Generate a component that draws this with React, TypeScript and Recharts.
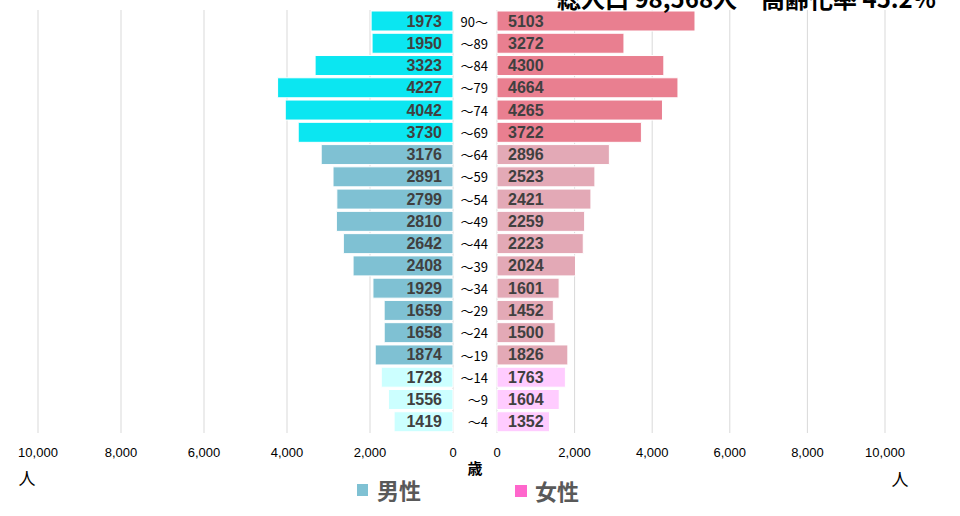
import React from "react";
import { BarChart, Bar, XAxis, YAxis, CartesianGrid, Cell, LabelList } from "recharts";

const ages = ["90〜", "〜89", "〜84", "〜79", "〜74", "〜69", "〜64", "〜59", "〜54", "〜49", "〜44", "〜39", "〜34", "〜29", "〜24", "〜19", "〜14", "〜9", "〜4"];
const male = [1973, 1950, 3323, 4227, 4042, 3730, 3176, 2891, 2799, 2810, 2642, 2408, 1929, 1659, 1658, 1874, 1728, 1556, 1419];
const female = [5103, 3272, 4300, 4664, 4265, 3722, 2896, 2523, 2421, 2259, 2223, 2024, 1601, 1452, 1500, 1826, 1763, 1604, 1352];
const groups = ["old", "old", "old", "old", "old", "old", "mid", "mid", "mid", "mid", "mid", "mid", "mid", "mid", "mid", "mid", "young", "young", "young"];
const xTicks = [0, 2000, 4000, 6000, 8000, 10000];
const titleText = "総人口 98,568人\u3000高齢化率 45.2%";

const maleColors: Record<string, string> = { old: "#0BE6F1", mid: "#7FC1D3", young: "#CCFFFF" };
const femaleColors: Record<string, string> = { old: "#E97F90", mid: "#E3A9B6", young: "#FFCCFF" };

const data = ages.map((age, i) => ({ age, male: male[i], female: female[i], group: groups[i] }));

const fmt = (v: number) => v.toLocaleString("en-US");
const tickStyle = { fontFamily: "Liberation Sans, Arial, sans-serif", fontSize: 13, fill: "#000" };
const labelFont = "Liberation Sans, Arial, sans-serif";

const MaleLabel = (props: any) => {
  const { x, y, width, height, value } = props;
  const right = Math.max(x, x + width);
  return (
    <text x={right - 11} y={y + height / 2} textAnchor="end" dominantBaseline="central"
      fontFamily={labelFont} fontWeight="bold" fontSize={16} fill="#404040">{value}</text>
  );
};

const FemaleLabel = (props: any) => {
  const { x, y, width, height, value } = props;
  const left = Math.min(x, x + width);
  return (
    <text x={left + 11} y={y + height / 2} textAnchor="start" dominantBaseline="central"
      fontFamily={labelFont} fontWeight="bold" fontSize={16} fill="#404040">{value}</text>
  );
};

const AgeTick = (props: any) => {
  const { x, y, payload } = props;
  return (
    <text x={x + 27} y={y} textAnchor="end" dominantBaseline="central"
      fontFamily="'Noto Sans CJK JP', sans-serif" fontSize={13} fill="#000">{payload.value}</text>
  );
};

export default function App() {
  return (
    <div style={{ position: "absolute", left: 0, top: 0, width: 960, height: 516, background: "#fff", overflow: "hidden" }}>
      <div style={{ position: "absolute", left: 0, top: 0 }}>
        <BarChart width={497} height={516} data={data} layout="vertical"
          margin={{ top: 10, right: 0, bottom: 53, left: 38 }} barCategoryGap={1}>
          <CartesianGrid horizontal={false} stroke="#D9D9D9" />
          <XAxis type="number" dataKey="male" domain={[0, 10000]} ticks={xTicks} reversed
            tickFormatter={fmt} axisLine={false} tickLine={false} tick={tickStyle} tickMargin={9} height={30} interval={0} />
          <YAxis type="category" dataKey="age" orientation="right" width={44}
            axisLine={false} tickLine={false} tick={<AgeTick />} interval={0} />
          <Bar dataKey="male" isAnimationActive={false} stroke="#fff" strokeWidth={1}>
            {data.map((d, i) => <Cell key={i} fill={maleColors[d.group]} />)}
            <LabelList dataKey="male" content={<MaleLabel />} />
          </Bar>
        </BarChart>
      </div>
      <div style={{ position: "absolute", left: 480, top: 0 }}>
        <BarChart width={480} height={516} data={data} layout="vertical"
          margin={{ top: 10, right: 75, bottom: 53, left: 17 }} barCategoryGap={1}>
          <CartesianGrid horizontal={false} stroke="#D9D9D9" />
          <XAxis type="number" dataKey="female" domain={[0, 10000]} ticks={xTicks}
            tickFormatter={fmt} axisLine={false} tickLine={false} tick={tickStyle} tickMargin={9} height={30} interval={0} />
          <YAxis type="category" dataKey="age" hide />
          <Bar dataKey="female" isAnimationActive={false} stroke="#fff" strokeWidth={1}>
            {data.map((d, i) => <Cell key={i} fill={femaleColors[d.group]} />)}
            <LabelList dataKey="female" content={<FemaleLabel />} />
          </Bar>
        </BarChart>
      </div>
      <svg width={960} height={516} style={{ position: "absolute", left: 0, top: 0, pointerEvents: "none" }}>
        <text x={557} y={8} fontFamily="'Noto Sans CJK JP', sans-serif" fontWeight="bold" fontSize={24} fill="#000">{titleText}</text>
        <text x={27} y={477} textAnchor="middle" dominantBaseline="central" fontFamily="'Noto Sans CJK JP', sans-serif" fontSize={17} fill="#000">人</text>
        <text x={900} y={478} textAnchor="middle" dominantBaseline="central" fontFamily="'Noto Sans CJK JP', sans-serif" fontSize={17} fill="#000">人</text>
        <text x={475} y={467} textAnchor="middle" dominantBaseline="central" fontFamily="'Noto Sans CJK JP', sans-serif" fontWeight="bold" fontSize={15} fill="#000">歳</text>
        <rect x={357} y={484} width={11} height={12} fill="#7FC1D3" />
        <text x={377} y={489} dominantBaseline="central" fontFamily="'Noto Sans CJK JP', sans-serif" fontWeight="bold" fontSize={22} fill="#595959">男性</text>
        <rect x={515} y={485} width={12} height={12} fill="#FF66CC" />
        <text x={535} y={490} dominantBaseline="central" fontFamily="'Noto Sans CJK JP', sans-serif" fontWeight="bold" fontSize={22} fill="#595959">女性</text>
      </svg>
    </div>
  );
}
